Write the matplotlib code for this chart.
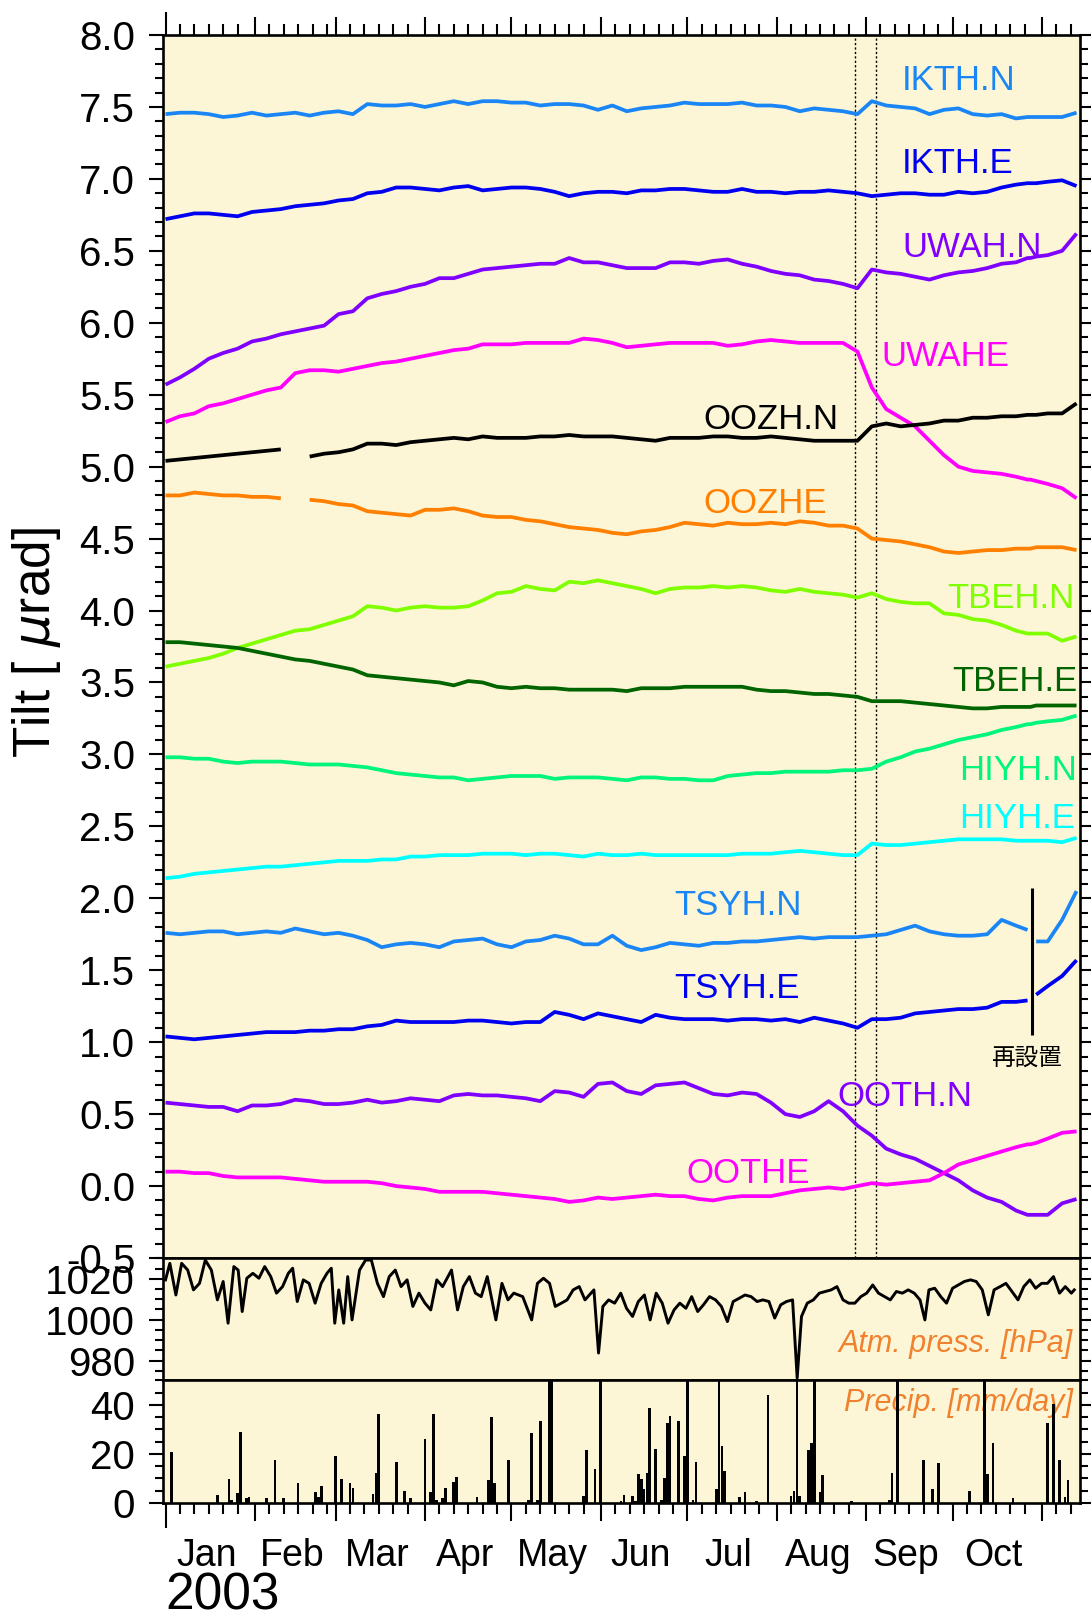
import numpy as np
import matplotlib
matplotlib.use("Agg")
import matplotlib.pyplot as plt
from matplotlib.ticker import MultipleLocator, FixedLocator, NullFormatter

plt.rcParams['font.family'] = ['Liberation Sans', 'DejaVu Sans']
plt.rcParams['mathtext.fontset'] = 'dejavusans'

# ---------------- data ----------------
# sample days (days since 2003-01-01)
days = list(range(0, 300, 5)) + [299, 300, 302, 306, 311, 316]

ikth_n = [7.45, 7.46, 7.46, 7.45, 7.43, 7.44, 7.46, 7.44, 7.45, 7.46,
          7.44, 7.46, 7.47, 7.45, 7.52, 7.51, 7.51, 7.52, 7.50, 7.52,
          7.54, 7.52, 7.54, 7.54, 7.53, 7.53, 7.51, 7.52, 7.52, 7.51,
          7.48, 7.51, 7.47, 7.49, 7.50, 7.51, 7.53, 7.52, 7.52, 7.52,
          7.53, 7.51, 7.51, 7.50, 7.47, 7.49, 7.48, 7.47, 7.45, 7.54,
          7.51, 7.50, 7.49, 7.45, 7.48, 7.49, 7.45, 7.44, 7.45, 7.42,
          7.43, 7.43, 7.43, 7.43, 7.43, 7.46]
ikth_e = [6.72, 6.74, 6.76, 6.76, 6.75, 6.74, 6.77, 6.78, 6.79, 6.81,
          6.82, 6.83, 6.85, 6.86, 6.90, 6.91, 6.94, 6.94, 6.93, 6.92,
          6.94, 6.95, 6.92, 6.93, 6.94, 6.94, 6.93, 6.91, 6.88, 6.90,
          6.91, 6.91, 6.90, 6.92, 6.92, 6.93, 6.93, 6.92, 6.91, 6.91,
          6.93, 6.91, 6.91, 6.90, 6.91, 6.91, 6.92, 6.91, 6.90, 6.88,
          6.89, 6.90, 6.90, 6.89, 6.89, 6.91, 6.90, 6.91, 6.94, 6.96,
          6.97, 6.97, 6.97, 6.98, 6.99, 6.95]
uwah_n = [5.57, 5.62, 5.68, 5.75, 5.79, 5.82, 5.87, 5.89, 5.92, 5.94,
          5.96, 5.98, 6.06, 6.08, 6.17, 6.20, 6.22, 6.25, 6.27, 6.31,
          6.31, 6.34, 6.37, 6.38, 6.39, 6.40, 6.41, 6.41, 6.45, 6.42,
          6.42, 6.40, 6.38, 6.38, 6.38, 6.42, 6.42, 6.41, 6.43, 6.44,
          6.41, 6.39, 6.36, 6.34, 6.33, 6.30, 6.29, 6.27, 6.24, 6.37,
          6.35, 6.34, 6.32, 6.30, 6.33, 6.35, 6.36, 6.38, 6.41, 6.42,
          6.45, 6.45, 6.46, 6.47, 6.50, 6.62]
uwah_e = [5.31, 5.35, 5.37, 5.42, 5.44, 5.47, 5.50, 5.53, 5.55, 5.65,
          5.67, 5.67, 5.66, 5.68, 5.70, 5.72, 5.73, 5.75, 5.77, 5.79,
          5.81, 5.82, 5.85, 5.85, 5.85, 5.86, 5.86, 5.86, 5.86, 5.89,
          5.88, 5.86, 5.83, 5.84, 5.85, 5.86, 5.86, 5.86, 5.86, 5.84,
          5.85, 5.87, 5.88, 5.87, 5.86, 5.86, 5.86, 5.86, 5.80, 5.55,
          5.40, 5.34, 5.28, 5.18, 5.08, 5.00, 4.97, 4.96, 4.95, 4.93,
          4.91, 4.91, 4.90, 4.88, 4.85, 4.78]
oozh_n = [5.04, 5.05, 5.06, 5.07, 5.08, 5.09, 5.10, 5.11, 5.12, np.nan,
          5.07, 5.09, 5.10, 5.12, 5.16, 5.16, 5.15, 5.17, 5.18, 5.19,
          5.20, 5.19, 5.21, 5.20, 5.20, 5.20, 5.21, 5.21, 5.22, 5.21,
          5.21, 5.21, 5.20, 5.19, 5.18, 5.20, 5.20, 5.20, 5.21, 5.21,
          5.20, 5.20, 5.21, 5.20, 5.19, 5.18, 5.18, 5.18, 5.18, 5.28,
          5.30, 5.28, 5.29, 5.30, 5.32, 5.32, 5.34, 5.34, 5.35, 5.35,
          5.36, 5.36, 5.36, 5.37, 5.37, 5.44]
oozh_e = [4.80, 4.80, 4.82, 4.81, 4.80, 4.80, 4.79, 4.79, 4.78, np.nan,
          4.77, 4.76, 4.74, 4.73, 4.69, 4.68, 4.67, 4.66, 4.70, 4.70,
          4.71, 4.69, 4.66, 4.65, 4.65, 4.63, 4.62, 4.60, 4.58, 4.57,
          4.56, 4.54, 4.53, 4.55, 4.56, 4.58, 4.61, 4.60, 4.59, 4.61,
          4.60, 4.60, 4.61, 4.60, 4.62, 4.61, 4.59, 4.59, 4.57, 4.50,
          4.49, 4.48, 4.46, 4.44, 4.41, 4.40, 4.41, 4.42, 4.42, 4.43,
          4.43, 4.43, 4.44, 4.44, 4.44, 4.42]
tbeh_n = [3.61, 3.63, 3.65, 3.67, 3.70, 3.74, 3.77, 3.80, 3.83, 3.86,
          3.87, 3.90, 3.93, 3.96, 4.03, 4.02, 4.00, 4.02, 4.03, 4.02,
          4.02, 4.03, 4.07, 4.12, 4.13, 4.17, 4.15, 4.14, 4.20, 4.19,
          4.21, 4.19, 4.17, 4.15, 4.12, 4.15, 4.16, 4.16, 4.17, 4.16,
          4.17, 4.16, 4.14, 4.13, 4.15, 4.13, 4.12, 4.11, 4.09, 4.12,
          4.08, 4.06, 4.05, 4.05, 3.98, 3.97, 3.94, 3.93, 3.90, 3.86,
          3.84, 3.84, 3.84, 3.84, 3.79, 3.82]
tbeh_e = [3.78, 3.78, 3.77, 3.76, 3.75, 3.74, 3.72, 3.70, 3.68, 3.66,
          3.65, 3.63, 3.61, 3.59, 3.55, 3.54, 3.53, 3.52, 3.51, 3.50,
          3.48, 3.51, 3.50, 3.47, 3.46, 3.47, 3.46, 3.46, 3.45, 3.45,
          3.45, 3.45, 3.44, 3.46, 3.46, 3.46, 3.47, 3.47, 3.47, 3.47,
          3.47, 3.45, 3.44, 3.44, 3.43, 3.42, 3.42, 3.41, 3.40, 3.37,
          3.37, 3.37, 3.36, 3.35, 3.34, 3.33, 3.32, 3.32, 3.33, 3.33,
          3.33, 3.33, 3.34, 3.34, 3.34, 3.34]
hiyh_n = [2.98, 2.98, 2.97, 2.97, 2.95, 2.94, 2.95, 2.95, 2.95, 2.94,
          2.93, 2.93, 2.93, 2.92, 2.91, 2.89, 2.87, 2.86, 2.85, 2.84,
          2.84, 2.82, 2.83, 2.84, 2.85, 2.85, 2.85, 2.83, 2.84, 2.84,
          2.84, 2.83, 2.82, 2.84, 2.84, 2.83, 2.83, 2.82, 2.82, 2.85,
          2.86, 2.87, 2.87, 2.88, 2.88, 2.88, 2.88, 2.89, 2.89, 2.90,
          2.95, 2.98, 3.02, 3.04, 3.07, 3.10, 3.12, 3.14, 3.17, 3.19,
          3.21, 3.21, 3.22, 3.23, 3.24, 3.27]
hiyh_e = [2.14, 2.15, 2.17, 2.18, 2.19, 2.20, 2.21, 2.22, 2.22, 2.23,
          2.24, 2.25, 2.26, 2.26, 2.26, 2.27, 2.27, 2.29, 2.29, 2.30,
          2.30, 2.30, 2.31, 2.31, 2.31, 2.30, 2.31, 2.31, 2.30, 2.29,
          2.31, 2.30, 2.30, 2.31, 2.30, 2.30, 2.30, 2.30, 2.30, 2.30,
          2.31, 2.31, 2.31, 2.32, 2.33, 2.32, 2.31, 2.30, 2.30, 2.38,
          2.37, 2.37, 2.38, 2.39, 2.40, 2.41, 2.41, 2.41, 2.41, 2.40,
          2.40, 2.40, 2.40, 2.40, 2.39, 2.42]
tsyh_n = [1.76, 1.75, 1.76, 1.77, 1.77, 1.75, 1.76, 1.77, 1.76, 1.79,
          1.77, 1.75, 1.76, 1.74, 1.71, 1.66, 1.68, 1.69, 1.68, 1.66,
          1.70, 1.71, 1.72, 1.68, 1.66, 1.70, 1.71, 1.74, 1.72, 1.68,
          1.68, 1.74, 1.67, 1.64, 1.66, 1.69, 1.68, 1.67, 1.69, 1.69,
          1.70, 1.70, 1.71, 1.72, 1.73, 1.72, 1.73, 1.73, 1.73, 1.74,
          1.75, 1.78, 1.81, 1.77, 1.75, 1.74, 1.74, 1.75, 1.85, 1.81,
          1.78, np.nan, 1.70, 1.70, 1.85, 2.05]
tsyh_e = [1.04, 1.03, 1.02, 1.03, 1.04, 1.05, 1.06, 1.07, 1.07, 1.07,
          1.08, 1.08, 1.09, 1.09, 1.11, 1.12, 1.15, 1.14, 1.14, 1.14,
          1.14, 1.15, 1.15, 1.14, 1.13, 1.14, 1.14, 1.21, 1.19, 1.16,
          1.20, 1.18, 1.16, 1.14, 1.19, 1.17, 1.16, 1.16, 1.16, 1.15,
          1.16, 1.16, 1.15, 1.16, 1.14, 1.17, 1.15, 1.13, 1.10, 1.16,
          1.16, 1.17, 1.20, 1.21, 1.22, 1.23, 1.23, 1.24, 1.28, 1.28,
          1.29, np.nan, 1.33, 1.39, 1.46, 1.57]
ooth_n = [0.58, 0.57, 0.56, 0.55, 0.55, 0.52, 0.56, 0.56, 0.57, 0.60,
          0.59, 0.57, 0.57, 0.58, 0.60, 0.58, 0.59, 0.61, 0.60, 0.59,
          0.63, 0.64, 0.63, 0.63, 0.62, 0.61, 0.59, 0.66, 0.65, 0.62,
          0.71, 0.72, 0.66, 0.64, 0.70, 0.71, 0.72, 0.68, 0.64, 0.63,
          0.65, 0.64, 0.58, 0.50, 0.48, 0.52, 0.59, 0.52, 0.42, 0.35,
          0.26, 0.22, 0.19, 0.14, 0.09, 0.04, -0.03, -0.08, -0.11, -0.17,
          -0.20, -0.20, -0.20, -0.20, -0.12, -0.09]
ooth_e = [0.10, 0.10, 0.09, 0.09, 0.07, 0.06, 0.06, 0.06, 0.06, 0.05,
          0.04, 0.03, 0.03, 0.03, 0.03, 0.02, 0.00, -0.01, -0.02, -0.04,
          -0.04, -0.04, -0.04, -0.05, -0.06, -0.07, -0.08, -0.09, -0.11, -0.10,
          -0.08, -0.09, -0.08, -0.07, -0.06, -0.07, -0.07, -0.09, -0.10, -0.08,
          -0.07, -0.07, -0.07, -0.05, -0.03, -0.02, -0.01, -0.02, 0.00, 0.02,
          0.01, 0.02, 0.03, 0.04, 0.09, 0.15, 0.18, 0.21, 0.24, 0.27,
          0.29, 0.29, 0.30, 0.33, 0.37, 0.38]

series_names = ['IKTH.N', 'IKTH.E', 'UWAH.N', 'UWAHE', 'OOZH.N', 'OOZHE',
                'TBEH.N', 'TBEH.E', 'HIYH.N', 'HIYH.E', 'TSYH.N', 'TSYH.E',
                'OOTH.N', 'OOTHE']
series_values = [ikth_n, ikth_e, uwah_n, uwah_e, oozh_n, oozh_e,
                 tbeh_n, tbeh_e, hiyh_n, hiyh_e, tsyh_n, tsyh_e,
                 ooth_n, ooth_e]

# atmospheric pressure (hPa)
press_day = [0, 1.5, 3.6, 5.6, 7.7, 9.7, 11.8, 13.8, 15.9, 18.0,
             20.0, 21.7, 23.7, 25.2, 26.6, 28.2, 30.3, 32.4, 34.4, 36.5,
             38.5, 40.6, 42.6, 44.1, 45.7, 47.8, 49.8, 51.9, 54.0, 56.0,
             57.5, 58.7, 60.1, 61.8, 63.2, 64.7, 67.3, 69.4, 71.4, 73.5,
             75.6, 77.6, 79.7, 81.7, 83.8, 85.8, 87.9, 90.0, 92.0, 94.1,
             96.1, 99.2, 101.3, 103.3, 105.4, 107.5, 109.5, 111.6, 114.6, 116.7,
             118.8, 120.8, 123.9, 127.0, 129.0, 131.1, 133.2, 135.2, 137.3, 139.3,
             141.4, 143.5, 145.5, 148.6, 150.2, 151.7, 153.7, 155.8, 157.9, 159.9,
             162.0, 164.0, 166.1, 168.1, 170.2, 172.3, 174.3, 176.4, 178.4, 180.5,
             182.5, 184.6, 186.6, 188.7, 190.8, 192.8, 194.9, 196.9, 199.0, 201.0,
             203.1, 205.2, 207.2, 209.3, 211.3, 213.4, 215.4, 217.5, 219.1, 220.6,
             222.6, 224.7, 226.8, 228.8, 230.9, 232.9, 235.0, 237.0, 239.1, 241.2,
             243.2, 245.3, 247.3, 249.4, 251.4, 253.5, 255.6, 257.6, 259.7, 261.7,
             263.4, 264.8, 266.8, 268.9, 270.9, 273.0, 275.0, 277.1, 279.2, 281.2,
             283.3, 285.4, 287.4, 289.5, 291.5, 293.6, 295.7, 297.7, 299.8, 301.8,
             303.9, 305.9, 308.0, 310.1, 312.1, 314.2, 315.2]
press_hpa = [1019.5, 1027.6, 1012.1, 1027.6, 1024.3, 1014.6, 1017.8, 1029.2, 1024.3, 1009.7,
             1018.7, 998.3, 1026.0, 1024.3, 1004.0, 1020.3, 1022.7, 1020.3, 1026.0, 1021.1,
             1013.0, 1016.2, 1022.7, 1025.2, 1008.9, 1019.5, 1017.8, 1008.1, 1017.8, 1022.7,
             1025.2, 998.3, 1014.6, 998.3, 1021.1, 999.9, 1024.3, 1029.2, 1029.2, 1017.8,
             1011.3, 1021.1, 1024.3, 1016.2, 1019.5, 1006.5, 1013.0, 1008.1, 1004.8, 1019.5,
             1016.2, 1024.3, 1004.8, 1016.2, 1021.1, 1013.0, 1011.3, 1021.1, 999.9, 1017.8,
             1009.7, 1013.0, 1011.3, 999.9, 1017.8, 1020.3, 1017.8, 1006.5, 1008.1, 1009.7,
             1014.6, 1016.2, 1009.7, 1014.6, 983.7, 1006.5, 1009.7, 1008.1, 1013.0, 1005.6,
             1001.6, 1008.9, 1012.1, 999.9, 1013.0, 1008.1, 998.3, 1004.8, 1008.1, 1005.6,
             1011.3, 1004.0, 1007.3, 1011.3, 1009.7, 1006.5, 999.1, 1008.9, 1010.5, 1012.1,
             1011.3, 1008.9, 1009.7, 1008.9, 1000.8, 1007.3, 1008.9, 1009.7, 971.5, 1001.6,
             1008.1, 1009.7, 1013.0, 1013.8, 1014.6, 1016.2, 1009.7, 1008.1, 1008.1, 1011.3,
             1013.0, 1017.0, 1013.0, 1011.3, 1009.7, 1013.8, 1013.0, 1014.6, 1013.0, 1009.7,
             999.9, 1014.6, 1015.4, 1011.3, 1008.1, 1015.4, 1017.0, 1018.7, 1019.5, 1018.7,
             1014.6, 1002.4, 1014.6, 1016.2, 1017.8, 1013.8, 1009.7, 1016.2, 1019.5, 1015.4,
             1017.8, 1017.8, 1021.1, 1013.0, 1016.2, 1013.0, 1014.6]

# daily precipitation (mm/day)
precip_day = [2, 18, 22, 23, 25, 26, 28, 29, 35, 38,
              41, 46, 52, 53, 54, 59, 61, 64, 65, 72,
              73, 74, 80, 83, 85, 90, 92, 93, 94, 96,
              97, 100, 101, 108, 112, 113, 114, 119, 126, 127,
              129, 130, 133, 134, 145, 146, 149, 151, 158, 159,
              162, 163, 164, 165, 166, 167, 168, 170, 172, 173,
              174, 175, 178, 180, 181, 183, 184, 191, 192, 193,
              194, 199, 201, 205, 209, 217, 218, 219, 220, 223,
              224, 225, 227, 228, 238, 251, 252, 254, 263, 266,
              268, 279, 284, 285, 287, 294, 306, 308, 310, 312,
              313]
precip_mm = [20.7, 3.3, 9.8, 1.2, 4.0, 29.0, 2.0, 2.6, 2.0, 17.7,
             2.0, 8.3, 4.4, 2.6, 6.8, 19.2, 9.7, 8.3, 6.3, 3.8,
             12.2, 36.2, 16.6, 4.8, 2.0, 26.1, 4.4, 36.5, 1.2, 2.0,
             6.3, 8.7, 10.7, 2.4, 9.3, 35.0, 8.3, 17.7, 1.4, 28.6,
             1.4, 33.6, 60, 60, 2.7, 21.6, 13.7, 60, 0.8, 3.3,
             2.9, 1.0, 11.8, 9.7, 5.7, 12.1, 38.6, 22.2, 1.4, 10.3,
             32.5, 35.6, 33.6, 19.2, 60, 1.4, 16.6, 5.7, 60, 23.3,
             13.2, 2.4, 4.4, 0.8, 43.9, 2.7, 4.9, 60, 2.7, 21.6,
             24.6, 60, 4.4, 11.4, 0.8, 1.4, 12.2, 60, 17.7, 5.9,
             16.3, 4.8, 60, 11.8, 24.6, 2.0, 32.5, 40.4, 17.7, 2.4,
             9.3]

month_names = ['Jan', 'Feb', 'Mar', 'Apr', 'May', 'Jun', 'Jul', 'Aug', 'Sep', 'Oct']
month_start = [0, 31, 59, 90, 120, 151, 181, 212, 243, 273, 304]
event_days = [239.2, 246.4]          # dotted lines
reinstall_day = 300.5                # TSYH re-installation
reinstall_range = [1.05, 2.07]

# ---------------- styling ----------------
BG = '#fdf6d6'
colors = {'IKTH.N': '#1a86f5', 'IKTH.E': '#0000f0', 'UWAH.N': '#7f00ff',
          'UWAHE': '#ff00ff', 'OOZH.N': '#000000', 'OOZHE': '#ff7f00',
          'TBEH.N': '#7fff00', 'TBEH.E': '#006400', 'HIYH.N': '#00f57a',
          'HIYH.E': '#00ffff', 'TSYH.N': '#1a86f5', 'TSYH.E': '#0000f0',
          'OOTH.N': '#7f00ff', 'OOTHE': '#ff00ff'}
label_pos = {'IKTH.N': (255.4, 7.62), 'IKTH.E': (255.5, 7.04), 'UWAH.N': (255.5, 6.46),
             'UWAHE': (248.4, 5.70), 'OOZH.N': (186.6, 5.26), 'OOZHE': (186.6, 4.68),
             'TBEH.N': (271.0, 4.02), 'TBEH.E': (273.0, 3.44), 'HIYH.N': (275.1, 2.82),
             'HIYH.E': (275.1, 2.49), 'TSYH.N': (176.4, 1.885), 'TSYH.E': (176.4, 1.31),
             'OOTH.N': (232.9, 0.555), 'OOTHE': (180.5, 0.02)}

W, H = 1091, 1618
fig = plt.figure(figsize=(W / 100, H / 100), dpi=100)
L = 163 / W
Wd = 917 / W
ax = fig.add_axes([L, 1 - 1258 / H, Wd, 1223 / H])
axp = fig.add_axes([L, 1 - 1380 / H, Wd, 122 / H])
axr = fig.add_axes([L, 1 - 1503 / H, Wd, 123 / H])

xmin, xmax = -0.87, 317.2
minor_days = [m + k for m in month_start for k in (5, 10, 15, 20, 25) if m + k < xmax]

for a in (ax, axp, axr):
    a.set_facecolor(BG)
    a.set_xlim(xmin, xmax)
    for s in a.spines.values():
        s.set_linewidth(1.9)
    a.tick_params(axis='y', which='both', left=True, right=True, direction='out',
                  labelsize=29, width=1.5, pad=10)
    a.tick_params(axis='y', which='major', length=10)
    a.tick_params(axis='y', which='minor', length=5.5)
    a.xaxis.set_major_locator(FixedLocator(month_start))
    a.xaxis.set_minor_locator(FixedLocator(minor_days))
    a.xaxis.set_major_formatter(NullFormatter())

# main panel
for name, vals in zip(series_names, series_values):
    ax.plot(days, vals, color=colors[name], lw=2.7, solid_capstyle='butt',
            solid_joinstyle='round', zorder=3)
    lx, ly = label_pos[name]
    ax.text(lx, ly, name, color=colors[name], fontsize=25, ha='left', va='baseline', zorder=5)
for d in event_days:
    ax.axvline(d, color='black', lw=1.0, ls=(0, (1.6, 1.6)), zorder=2)
ax.vlines(reinstall_day, reinstall_range[0], reinstall_range[1], color='black', lw=2.2, zorder=4)
ax.text(reinstall_day - 1.7, 0.89, '再設置', fontsize=17, ha='center', va='center',
        family=['Noto Sans CJK JP', 'DejaVu Sans'])
ax.set_ylim(-0.5, 8.0)
ax.yaxis.set_major_locator(MultipleLocator(0.5))
ax.yaxis.set_minor_locator(MultipleLocator(0.1))
ax.yaxis.set_major_formatter(plt.FuncFormatter(lambda v, p: f'{v:.1f}'))
ax.tick_params(axis='x', which='both', bottom=False, top=True, labelbottom=False,
               direction='out', width=1.5)
ax.tick_params(axis='x', which='major', length=13)
ax.tick_params(axis='x', which='minor', length=8)
ax.xaxis.get_major_ticks()[0].tick2line.set_markersize(16.5)

fig.text(37 / W, 1 - 643 / H, 'Tilt [ $\\mu$rad]', rotation=90, fontsize=37,
         ha='center', va='center')

# pressure panel
axp.plot(press_day, press_hpa, color='black', lw=2.1, solid_joinstyle='round', zorder=3)
axp.set_ylim(970.5, 1030.2)
axp.yaxis.set_major_locator(MultipleLocator(20))
axp.yaxis.set_minor_locator(MultipleLocator(5))
axp.tick_params(axis='x', which='both', bottom=False, top=False, labelbottom=False)
axp.text(0.9924, 0.23, 'Atm. press. [hPa]', transform=axp.transAxes, ha='right',
         va='baseline', fontsize=22, style='italic', color='#f0812e')

# precipitation panel
axr.bar(precip_day, precip_mm, width=0.95, color='black', zorder=3)
axr.set_ylim(0, 50.2)
axr.yaxis.set_major_locator(MultipleLocator(20))
axr.yaxis.set_minor_locator(MultipleLocator(5))
axr.tick_params(axis='x', which='both', bottom=True, top=False, direction='out', width=1.5)
axr.tick_params(axis='x', which='major', length=13)
axr.tick_params(axis='x', which='minor', length=8)
axr.xaxis.get_major_ticks()[0].tick1line.set_markersize(18)
axr.text(0.9924, 0.745, 'Precip. [mm/day]', transform=axr.transAxes, ha='right',
         va='baseline', fontsize=22, style='italic', color='#f0812e', zorder=2)

# month labels
mids = [(month_start[i] + month_start[i + 1]) / 2 - 1.2 for i in range(len(month_names))]
sec = axr.secondary_xaxis('bottom')
sec.set_xticks(mids)
sec.set_xticklabels(month_names)
sec.tick_params(axis='x', length=0, pad=25, labelsize=27)
sec.spines['bottom'].set_visible(False)

fig.text(165 / W, 8 / H, '2003', fontsize=37, ha='left', va='baseline')

fig.savefig('out.png', dpi=100)
